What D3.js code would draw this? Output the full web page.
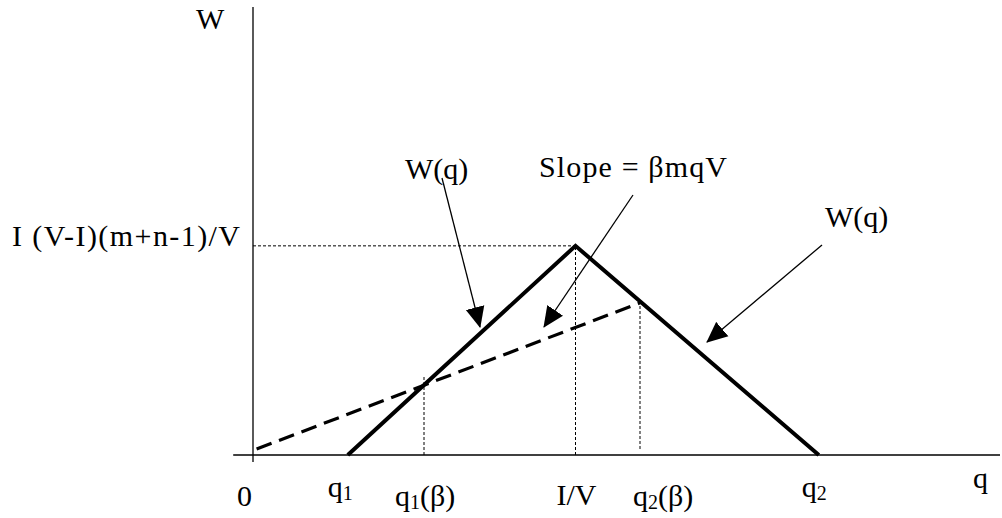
<!DOCTYPE html>
<html>
<head>
<meta charset="utf-8">
<script src="https://cdn.jsdelivr.net/npm/d3@7"></script>
<style>
  html, body { margin: 0; padding: 0; background: #fff; }
  svg { display: block; }
  text { font-family: "Liberation Serif", "Times New Roman", serif; fill: #000; }
</style>
</head>
<body>
<svg id="chart" width="1002" height="518"></svg>
<script>
// ---- data (model units) ----
const wCurveQ = [15.8, 53.75, 94.3];       // W(q) tent: q1, I/V, q2
const wCurveW = [0, 69.7, 0];
const slopeQ = [0.6, 64.5];                 // dashed line, slope = beta m q V
const slopeW = [2, 50.7];
const tickValues = [0, 15.8, 28.5, 53.75, 64.5, 94.3];
const tickMain = ["0", "q", "q", "I/V", "q", "q"];
const tickSub  = ["", "1", "1", "", "2", "2"];
const tickTail = ["", "", "(β)", "", "(β)", ""];
const guideQ = [28.5, 53.75, 64.5];         // dotted verticals
const guideLow = [0, 0, 2];
const guideHigh = [26, 69.7, 50.7];
const peakLabel = "I (V-I)(m+n-1)/V";
const yAxisLabel = "W";
const xAxisLabel = "q";

const svg = d3.select("#chart");
const x = d3.scaleLinear().domain([0, 124.5]).range([253, 1000]);
const y = d3.scaleLinear().domain([0, 149.3]).range([455, 7]);

// arrow marker
svg.append("defs").append("marker")
  .attr("id", "ah").attr("markerUnits", "userSpaceOnUse")
  .attr("viewBox", "0 -10 21 20").attr("refX", 20).attr("refY", 0)
  .attr("markerWidth", 21).attr("markerHeight", 20).attr("orient", "auto")
  .append("path").attr("d", "M0,-9.5L21,0L0,9.5Z").attr("fill", "#000");

// axes
svg.append("line").attr("x1", x(-3.3)).attr("x2", x(124.5)).attr("y1", y(0)).attr("y2", y(0))
  .attr("stroke", "#000").attr("stroke-width", 1.3);
svg.append("line").attr("x1", x(0)).attr("x2", x(0)).attr("y1", y(149.3)).attr("y2", y(-2.3))
  .attr("stroke", "#000").attr("stroke-width", 1.3);

// dotted guides
svg.append("line").attr("x1", x(0)).attr("x2", x(wCurveQ[1])).attr("y1", y(wCurveW[1])).attr("y2", y(wCurveW[1]))
  .attr("stroke", "#000").attr("stroke-width", 1).attr("stroke-dasharray", "3,2");
svg.selectAll("line.guide").data(guideQ).join("line").attr("class", "guide")
  .attr("x1", d => x(d)).attr("x2", d => x(d))
  .attr("y1", (d, i) => y(guideLow[i])).attr("y2", (d, i) => y(guideHigh[i]))
  .attr("stroke", "#000").attr("stroke-width", 1).attr("stroke-dasharray", "3,2");

// dashed slope line
const lineGen = d3.line().x(d => x(d[0])).y(d => y(d[1]));
svg.append("path").datum(slopeQ.map((q, i) => [q, slopeW[i]]))
  .attr("d", lineGen).attr("fill", "none").attr("stroke", "#000")
  .attr("stroke-width", 3.2).attr("stroke-dasharray", "16,8");

// W(q) tent
svg.append("path").datum(wCurveQ.map((q, i) => [q, wCurveW[i]]))
  .attr("d", lineGen).attr("fill", "none").attr("stroke", "#000")
  .attr("stroke-width", 4).attr("stroke-linejoin", "miter");

// annotation arrows
const arrows = [
  [442, 178, 480, 327],
  [633, 195, 544, 327],
  [822, 245, 707, 342]
];
svg.selectAll("line.arrow").data(arrows).join("line").attr("class", "arrow")
  .attr("x1", d => d[0]).attr("y1", d => d[1]).attr("x2", d => d[2]).attr("y2", d => d[3])
  .attr("stroke", "#000").attr("stroke-width", 1.3).attr("marker-end", "url(#ah)");

// annotation texts
const fs = 30;
svg.append("text").attr("x", 196).attr("y", 29).attr("font-size", fs).text(yAxisLabel);
svg.append("text").attr("x", 973).attr("y", 488).attr("font-size", fs).text(xAxisLabel);
svg.append("text").attr("x", 12).attr("y", 246).attr("font-size", fs)
  .attr("textLength", 228).attr("lengthAdjust", "spacing").text(peakLabel);
svg.append("text").attr("x", 405).attr("y", 179).attr("font-size", fs).text("W(q)");
svg.append("text").attr("x", 539).attr("y", 177).attr("font-size", fs)
  .attr("textLength", 188).attr("lengthAdjust", "spacing").text("Slope = βmqV");
svg.append("text").attr("x", 825).attr("y", 227).attr("font-size", fs).text("W(q)");

// tick labels
const tickDx = [-16, -20, -29, -19, -7, -17];
const tickBase = [506, 497, 506, 505, 506, 497];
tickValues.forEach((v, i) => {
  const t = svg.append("text").attr("x", x(v) + tickDx[i]).attr("y", tickBase[i]).attr("font-size", fs);
  t.append("tspan").text(tickMain[i]);
  if (tickSub[i]) t.append("tspan").attr("font-size", 20).attr("dy", 3).text(tickSub[i]);
  if (tickTail[i]) t.append("tspan").attr("dy", tickSub[i] ? -3 : 0).text(tickTail[i]);
});
</script>
</body>
</html>
